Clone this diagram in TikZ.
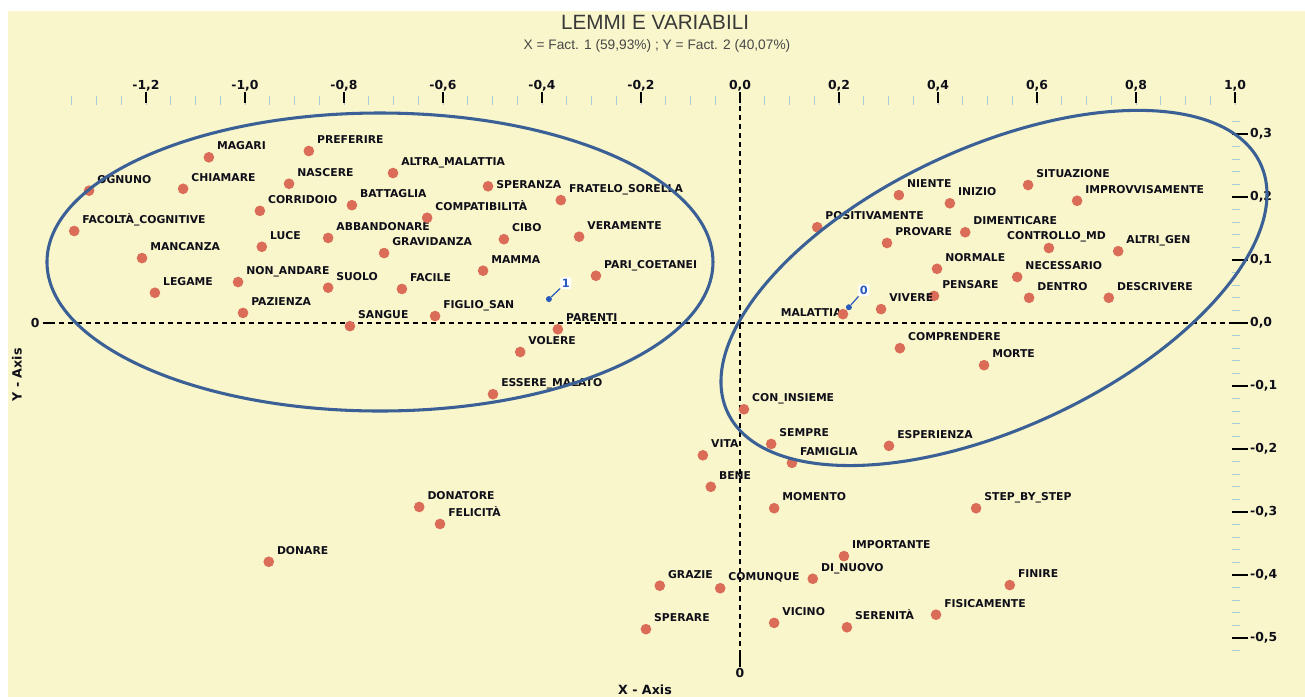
\documentclass[tikz,border=0pt]{standalone}
\usepackage{fontspec}
\usepackage{tikz}
\newfontfamily\lblfont{DejaVu Sans}
\newfontfamily\ttlfont{Liberation Sans}
\definecolor{bgyellow}{RGB}{249,246,203}
\definecolor{dotred}{RGB}{218,108,88}
\definecolor{ringblue}{RGB}{58,96,150}
\definecolor{tickblue}{RGB}{170,205,215}
\definecolor{lbltext}{RGB}{15,15,25}
\definecolor{cblue}{RGB}{40,90,190}

\tikzset{
  dot/.style={circle, fill=dotred, inner sep=0pt, minimum size=8pt},
  word/.style={font=\lblfont\bfseries\fontsize{8.1}{9}\selectfont, text=lbltext, inner sep=0pt, anchor=base west},
  ticklbl/.style={font=\lblfont\bfseries\fontsize{9.3}{10}\selectfont, text=lbltext, inner sep=0pt},
  axlbl/.style={font=\lblfont\bfseries\fontsize{9.5}{11}\selectfont, text=lbltext, inner sep=0pt},
  cdot/.style={circle, fill=cblue, inner sep=0pt, minimum size=4.5pt},
  clbl/.style={font=\lblfont\bfseries\fontsize{8.5}{9}\selectfont, text=cblue, fill=white, rounded corners=1pt, inner sep=1.2pt},
  ring/.style={draw=ringblue, line width=2.3pt},
  zeroline/.style={line width=0.9pt, dash pattern=on 3.8pt off 3pt}
}

\begin{document}
\begin{tikzpicture}[x=371.25pt,y=472.5pt]

  \def\xmin{-1.49495}
  \def\xmax{1.14141}
  \def\ymin{-0.59365}
  \def\ymax{0.51270}

  \useasboundingbox (\xmin,\ymin) rectangle (\xmax,\ymax);

  % background
  \fill[bgyellow] (-1.4788,\ymin) rectangle (\xmax,0.4952);

  % title
  \node[font=\ttlfont\fontsize{15.5}{18}\selectfont, text=black!78] (title) at (-0.1717,0.4778) {LEMMI E VARIABILI};
  \node[font=\ttlfont\fontsize{10.3}{12}\selectfont, text=black!72] (subtitle) at (-0.1677,0.4397) {X = Fact. 1 (59,93\%) ; Y = Fact. 2 (40,07\%)};

  % xticks (top) and yticks (right)
  \foreach \i in {-27,...,20}
  \draw[tickblue, line width=0.6pt] (\i*0.05,0.346) -- (\i*0.05,0.360);
  \foreach \v/\t in {-1.2/{-1,2},-1.0/{-1,0},-0.8/{-0,8},-0.6/{-0,6},-0.4/{-0,4},-0.2/{-0,2},
                     0.0/{0,0},0.2/{0,2},0.4/{0,4},0.6/{0,6},0.8/{0,8},1.0/{1,0}}
  {
    \draw[line width=0.8pt] (\v,0.349) -- (\v,0.366);
    \node[ticklbl] at (\v,0.377) {\t};
  }
  \foreach \i in {-26,...,16}
  \draw[tickblue, line width=0.6pt] (0.994,\i*0.02) -- (1.010,\i*0.02);
  \foreach \v/\t in {0.3/{0,3},0.2/{0,2},0.1/{0,1},0.0/{0,0},-0.1/{-0,1},
                     -0.2/{-0,2},-0.3/{-0,3},-0.4/{-0,4},-0.5/{-0,5}}
  {
    \draw[line width=0.8pt] (0.994,\v) -- (1.026,\v);
    \node[ticklbl, anchor=west] at (1.030,\v) {\t};
  }

  % axes
  \node[ticklbl] (yzero) at (-1.424,0) {0};
  \draw[line width=0.9pt] (-1.409,0) -- (-1.394,0);
  \draw[zeroline] (-1.394,0) -- (0.994,0);
  \node[ticklbl] (xzero) at (0,-0.5556) {0};
  \draw[line width=0.9pt] (0,-0.527) -- (0,-0.546);
  \draw[zeroline] (0,0.359) -- (0,-0.527);
  \node[axlbl] (xaxis) at (-0.192,-0.5825) {X - Axis};
  \node[axlbl, rotate=90] (yaxis) at (-1.4606,-0.0825) {Y - Axis};

  % lemmi
  \foreach \x/\y/\n/\t in {
    -1.073/0.263/magari/MAGARI,
    -0.871/0.273/preferire/PREFERIRE,
    -1.315/0.210/ognuno/OGNUNO,
    -1.125/0.213/chiamare/CHIAMARE,
    -0.911/0.221/nascere/NASCERE,
    -0.970/0.178/corridoio/CORRIDOIO,
    -1.345/0.146/facolta/FACOLTÀ\_COGNITIVE,
    -0.966/0.121/luce/LUCE,
    -0.832/0.135/abbandonare/ABBANDONARE,
    -1.208/0.103/mancanza/MANCANZA,
    -1.182/0.048/legame/LEGAME,
    -1.014/0.065/nonandare/NON\_ANDARE,
    -0.832/0.056/suolo/SUOLO,
    -1.004/0.016/pazienza/PAZIENZA,
    -0.788/-0.005/sangue/SANGUE,
    -0.784/0.187/battaglia/BATTAGLIA,
    -0.701/0.238/altramalattia/ALTRA\_MALATTIA,
    -0.362/0.195/fratelo/FRATELO\_SORELLA,
    -0.632/0.167/compatibilita/COMPATIBILITÀ,
    -0.477/0.133/cibo/CIBO,
    -0.325/0.137/veramente/VERAMENTE,
    -0.719/0.111/gravidanza/GRAVIDANZA,
    -0.519/0.083/mamma/MAMMA,
    -0.291/0.075/paricoetanei/PARI\_COETANEI,
    -0.683/0.054/facile/FACILE,
    -0.616/0.011/figliosan/FIGLIO\_SAN,
    -0.368/-0.010/parenti/PARENTI,
    -0.444/-0.046/volere/VOLERE,
    -0.499/-0.113/esseremalato/ESSERE\_MALATO,
    0.321/0.203/niente/NIENTE,
    0.424/0.190/inizio/INIZIO,
    0.582/0.219/situazione/SITUAZIONE,
    0.681/0.194/improvvisamente/IMPROVVISAMENTE,
    0.156/0.152/positivamente/POSITIVAMENTE,
    0.297/0.127/provare/PROVARE,
    0.455/0.144/dimenticare/DIMENTICARE,
    0.764/0.114/altrigen/ALTRI\_GEN,
    0.398/0.086/normale/NORMALE,
    0.560/0.073/necessario/NECESSARIO,
    0.392/0.043/pensare/PENSARE,
    0.584/0.040/dentro/DENTRO,
    0.745/0.040/descrivere/DESCRIVERE,
    0.285/0.022/vivere/VIVERE,
    0.323/-0.040/comprendere/COMPRENDERE,
    0.493/-0.067/morte/MORTE,
    0.008/-0.137/coninsieme/CON\_INSIEME,
    0.063/-0.192/sempre/SEMPRE,
    -0.075/-0.210/vita/VITA,
    0.105/-0.222/famiglia/FAMIGLIA,
    0.301/-0.195/esperienza/ESPERIENZA,
    -0.059/-0.260/bene/BENE,
    0.069/-0.294/momento/MOMENTO,
    0.477/-0.294/stepbystep/STEP\_BY\_STEP,
    -0.648/-0.292/donatore/DONATORE,
    -0.606/-0.319/felicita/FELICITÀ,
    -0.952/-0.379/donare/DONARE,
    0.210/-0.370/importante/IMPORTANTE,
    0.147/-0.406/dinuovo/DI\_NUOVO,
    0.545/-0.416/finire/FINIRE,
    -0.162/-0.417/grazie/GRAZIE,
    -0.040/-0.421/comunque/COMUNQUE,
    0.396/-0.463/fisicamente/FISICAMENTE,
    -0.190/-0.486/sperare/SPERARE,
    0.069/-0.476/vicino/VICINO,
    0.216/-0.483/serenita/SERENITÀ}
  {
    \node[dot] (\n) at (\x,\y) {};
    \node[word] (\n-t) at ([shift={(6pt,5.6pt)}]\n.center) {\t};
  }

  \node[dot] (speranza) at (-0.509,0.217) {};
  \node[word] (speranza-t) at ([shift={(6pt,-1.9pt)}]speranza.center) {SPERANZA};
  \node[dot] (controllo) at (0.624,0.119) {};
  \node[word] (controllo-t) at ([shift={(-31.5pt,6.4pt)}]controllo.center) {CONTROLLO\_MD};
  \node[word, anchor=base east] (malattia-t) at ([shift={(-0.8pt,-1.9pt)}]0.208,0.014) {MALATTIA};
  \node[dot] (malattia) at (0.208,0.014) {};

  % centroids
  \node[cdot] (c1) at (-0.386,0.038) {};
  \node[clbl] (c1-t) at ([shift={(12.75pt,12pt)}]c1.center) {1};
  \draw[cblue, line width=0.9pt] (c1) -- (c1-t);
  \node[cdot] (c0) at (0.220,0.025) {};
  \node[clbl] (c0-t) at ([shift={(11.25pt,12.75pt)}]c0.center) {0};
  \draw[cblue, line width=0.9pt] (c0) -- (c0-t);

  % groups
  \draw[ring] (-0.7273,0.0968) ellipse [x radius=249.75pt, y radius=111.75pt];
  \draw[ring, rotate around={25:(0.5131,0.0556)}] (0.5131,0.0556) ellipse [x radius=220.5pt, y radius=105pt];

\end{tikzpicture}
\end{document}
